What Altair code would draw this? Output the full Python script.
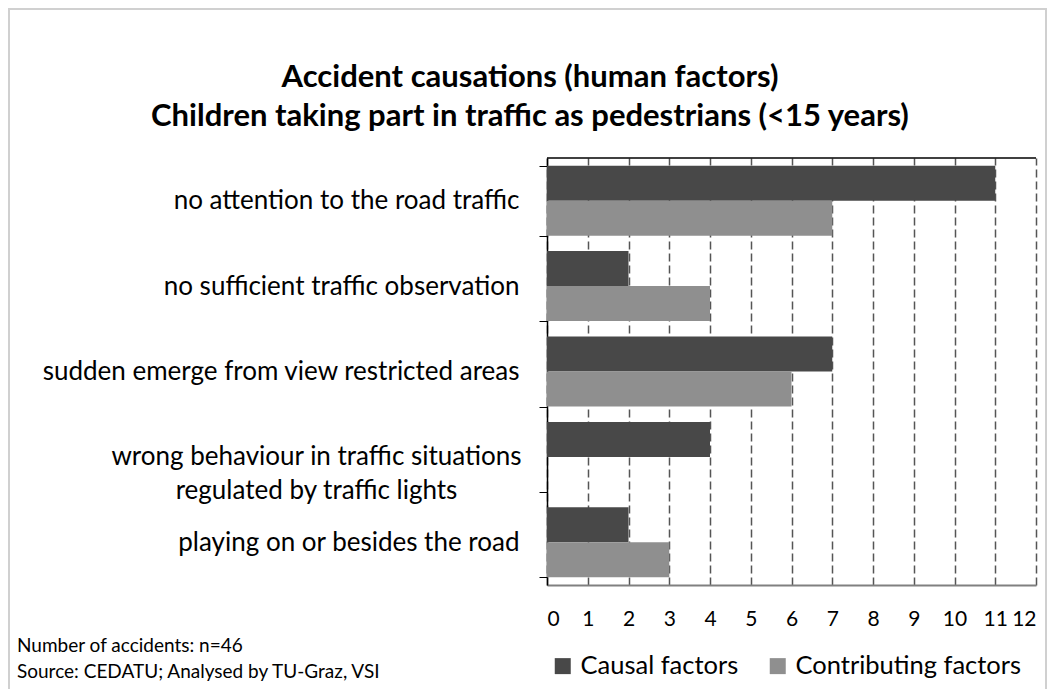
import altair as alt
import pandas as pd

categories = [
    "no attention to the road traffic",
    "no sufficient traffic observation",
    "sudden emerge from view restricted areas",
    "wrong behaviour in traffic situations regulated by traffic lights",
    "playing on or besides the road",
]
causal = [11, 2, 7, 4, 2]
contributing = [7, 4, 6, 0, 3]
series_names = ["Causal factors", "Contributing factors"]
series_colors = ["#484848", "#8f8f8f"]
x_ticks = list(range(0, 13))
title_lines = [
    "Accident causations (human factors)",
    "Children taking part in traffic as pedestrians (<15 years)",
]
notes = ["Number of accidents: n=46", "Source: CEDATU; Analysed by TU-Graz, VSI"]

rows = []
for c, a, b in zip(categories, causal, contributing):
    rows.append({"category": c, "series": series_names[0], "value": a})
    rows.append({"category": c, "series": series_names[1], "value": b})
df = pd.DataFrame(rows)

W, H = 489, 427
FONT = "Lato"
long_label = categories[3]

y_enc = alt.Y(
    "category:N",
    sort=categories,
    scale=alt.Scale(paddingInner=0.18, paddingOuter=0.09),
    axis=alt.Axis(
        title=None,
        labelFont=FONT,
        labelFontSize=26,
        labelColor="#000000",
        labelLimit=700,
        labelLineHeight=34,
        labelExpr=(
            "datum.label == '" + long_label + "' ? "
            "['wrong behaviour in traffic situations', 'regulated by traffic lights'] : datum.label"
        ),
        labelAlign={"condition": {"test": "datum.value == '" + long_label + "'", "value": "center"}, "value": "right"},
        labelPadding={"condition": {"test": "datum.value == '" + long_label + "'", "value": 223}, "value": 20},
        tickBand="extent",
        tickSize=8,
        tickColor="#000000",
        domainColor="#000000",
        domainWidth=1.5,
        grid=False,
    ),
)

bars = alt.Chart(df).mark_bar().encode(
    x=alt.X(
        "value:Q",
        scale=alt.Scale(domain=[0, 12], nice=False),
        axis=alt.Axis(
            title=None,
            values=x_ticks,
            labelFont=FONT,
            labelFontSize=21,
            labelColor="#000000",
            labelPadding=23,
            ticks=False,
            domainColor="#808080",
            domainWidth=2,
            grid=True,
            gridDash=[8, 4],
            gridColor="#555555",
            gridWidth=1.5,
        ),
    ),
    y=y_enc,
    yOffset=alt.YOffset("series:N", sort=series_names, scale=alt.Scale(paddingInner=0, paddingOuter=0)),
    color=alt.Color(
        "series:N",
        sort=series_names,
        scale=alt.Scale(domain=series_names, range=series_colors),
        legend=alt.Legend(
            title=None,
            orient="none",
            legendX=3,
            legendY=495,
            direction="horizontal",
            symbolType="square",
            symbolSize=256,
            symbolStrokeWidth=0,
            labelFont=FONT,
            labelFontSize=25.5,
            labelColor="#000000",
            labelLimit=400,
            columnPadding=26,
            labelOffset=5,
        ),
    ),
)

top_rule = alt.Chart(pd.DataFrame({"k": [0]})).mark_rule(color="#000000", strokeWidth=1.5).encode(
    x=alt.value(0), x2=alt.value(W), y=alt.value(0)
)

border = alt.Chart(pd.DataFrame({"k": [0]})).mark_rect(
    fill="transparent", stroke="#d0d0d0", strokeWidth=2
).encode(x=alt.value(-538), x2=alt.value(499), y=alt.value(-149), y2=alt.value(560))

title1 = alt.Chart(pd.DataFrame({"text": [title_lines[0]]})).mark_text(
    align="center", baseline="middle", font=FONT, fontSize=31, fontWeight="bold", color="#000000"
).encode(text="text:N", x=alt.value(-17), y=alt.value(-80))
title2 = alt.Chart(pd.DataFrame({"text": [title_lines[1]]})).mark_text(
    align="center", baseline="middle", font=FONT, fontSize=31, fontWeight="bold", color="#000000"
).encode(text="text:N", x=alt.value(-17), y=alt.value(-41))

note1 = alt.Chart(pd.DataFrame({"text": [notes[0]]})).mark_text(
    align="left", baseline="middle", font=FONT, fontSize=19, color="#000000"
).encode(text="text:N", x=alt.value(-530), y=alt.value(488))
note2 = alt.Chart(pd.DataFrame({"text": [notes[1]]})).mark_text(
    align="left", baseline="middle", font=FONT, fontSize=19, color="#000000"
).encode(text="text:N", x=alt.value(-530), y=alt.value(514))

chart = alt.layer(border, bars, top_rule, title1, title2, note1, note2).properties(
    width=W,
    height=H,
    autosize=alt.AutoSizeParams(type="none"),
    padding={"left": 539, "top": 150, "right": 12, "bottom": 140},
).configure_view(stroke=None)

chart.save("out.html", embed_options={"renderer": "svg", "actions": False})
